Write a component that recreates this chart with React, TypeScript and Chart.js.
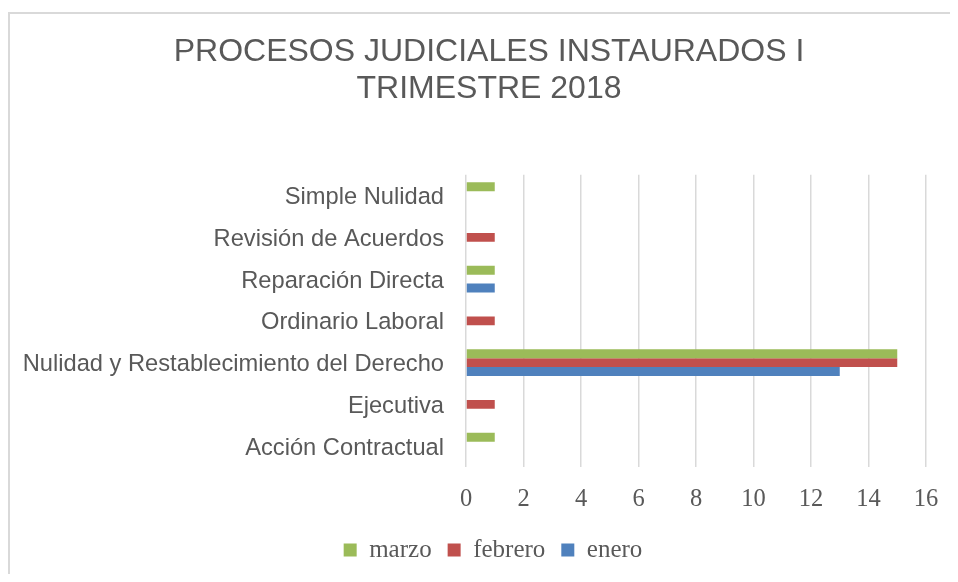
import React, { useEffect, useRef } from "react";
import { Chart, registerables } from "chart.js";

Chart.register(...registerables);

const categories = [
  "Simple Nulidad",
  "Revisión de Acuerdos",
  "Reparación Directa",
  "Ordinario Laboral",
  "Nulidad y Restablecimiento del Derecho",
  "Ejecutiva",
  "Acción Contractual",
];
const marzo = [1, 0, 1, 0, 15, 0, 1];
const febrero = [0, 1, 0, 1, 15, 1, 0];
const enero = [0, 0, 1, 0, 13, 0, 0];
const xMin = 0;
const xMax = 16;
const xStep = 2;
const titleLines = ["PROCESOS JUDICIALES INSTAURADOS I", "TRIMESTRE 2018"];

const TEXT = "#595959";
const GRID = "#d9d9d9";

const boxShift = {
  id: "boxShift",
  afterLayout(chart: any) {
    const l = chart.legend;
    if (l) {
      l.left += 24;
      l.right += 24;
    }
    const t = chart.titleBlock;
    if (t) {
      t.left += 20;
      t.right += 20;
    }
  },
};

export default function App() {
  const ref = useRef<HTMLCanvasElement | null>(null);

  useEffect(() => {
    document.documentElement.style.overflow = "hidden";
    if (!ref.current) return;
    const chart = new Chart(ref.current, {
      type: "bar",
      data: {
        labels: categories,
        datasets: [
          { label: "marzo", data: marzo, backgroundColor: "#9BBB59", borderWidth: 0 },
          { label: "febrero", data: febrero, backgroundColor: "#C0504D", borderWidth: 0 },
          { label: "enero", data: enero, backgroundColor: "#4F81BD", borderWidth: 0 },
        ],
      },
      plugins: [boxShift],
      options: {
        indexAxis: "y",
        animation: false,
        responsive: true,
        maintainAspectRatio: false,
        datasets: {
          bar: { categoryPercentage: 0.64, barPercentage: 1 },
        },
        layout: { padding: { left: 4, right: 32, top: 0, bottom: 1.5 } },
        plugins: {
          title: {
            display: true,
            text: titleLines,
            color: TEXT,
            font: { family: "'Liberation Sans', Arial, sans-serif", size: 32, weight: "normal", lineHeight: 1.15 },
            padding: { top: 26, bottom: 67.2 },
          },
          legend: {
            display: true,
            position: "bottom",
            labels: {
              color: TEXT,
              boxWidth: 13,
              boxHeight: 13,
              padding: 16,
              font: { family: "'Liberation Serif', serif", size: 25 },
            },
          },
          tooltip: { enabled: false },
        },
        scales: {
          x: {
            min: xMin,
            max: xMax,
            afterFit: (s: any) => {
              s.height = 54.5;
            },
            ticks: {
              stepSize: xStep,
              color: TEXT,
              padding: 18,
              font: { family: "'Liberation Serif', serif", size: 24.5 },
            },
            grid: { color: GRID, lineWidth: 1.5, drawTicks: false },
            border: { display: false },
          },
          y: {
            afterFit: (s: any) => {
              s.width = 454;
            },
            ticks: {
              color: TEXT,
              padding: 22,
              labelOffset: 2,
              font: { family: "'Liberation Sans', Arial, sans-serif", size: 23.7 },
            },
            grid: { display: false, drawTicks: false },
            border: { display: false },
          },
        },
      },
    });
    return () => chart.destroy();
  }, []);

  return (
    <div style={{ position: "relative", width: 950, height: 566, overflow: "hidden" }}>
      <div style={{ position: "absolute", left: 0, top: 4, width: 950, height: 2, background: GRID }} />
      <div style={{ position: "absolute", left: 0, top: 4, width: 2, height: 562, background: GRID }} />
      <canvas ref={ref} style={{ position: "absolute", left: 0, top: 0, width: 950, height: 566 }} />
    </div>
  );
}
